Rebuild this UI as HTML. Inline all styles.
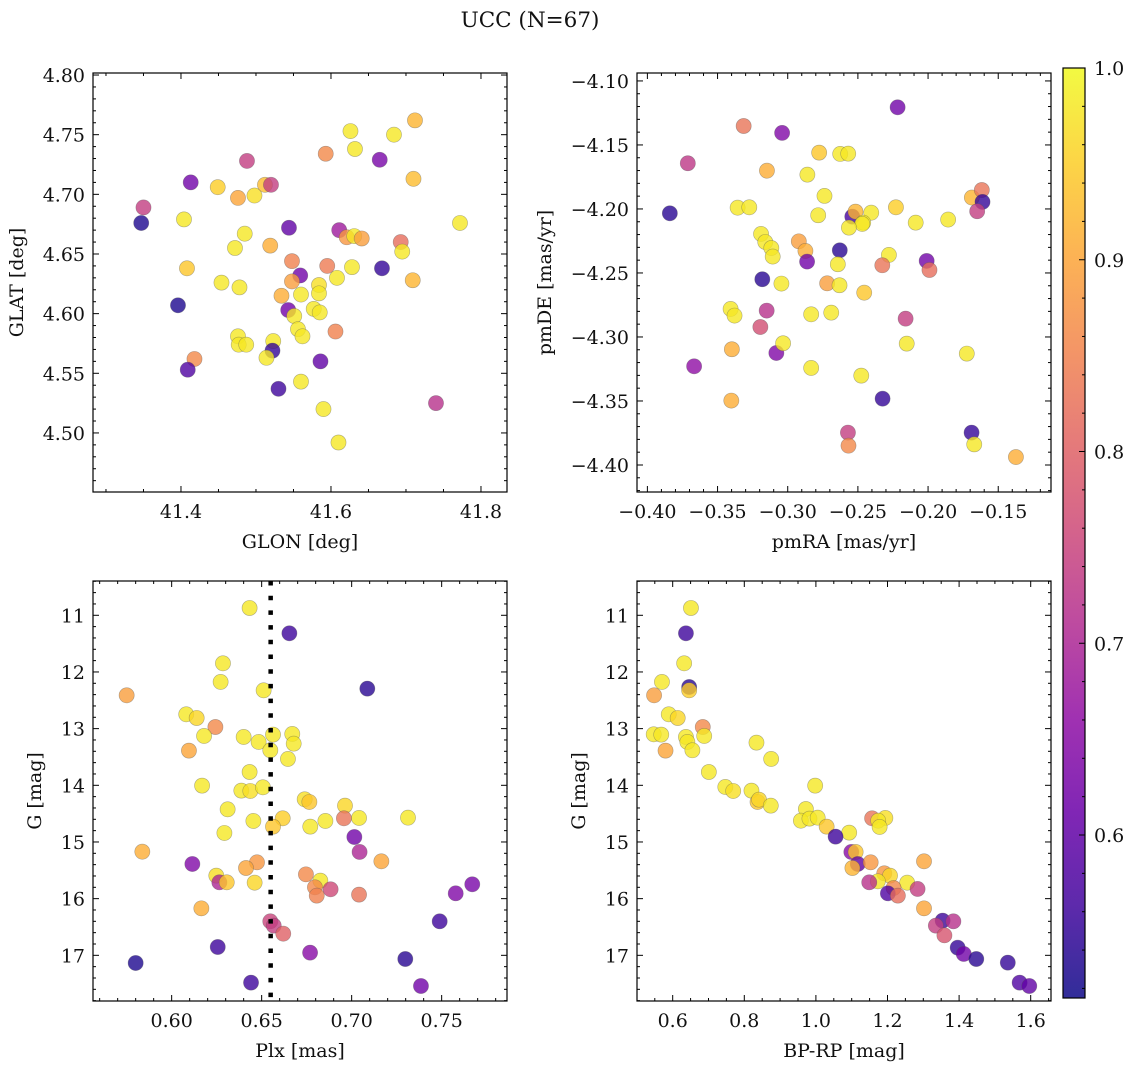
<!DOCTYPE html>
<html><head><meta charset="utf-8"><style>
html,body{margin:0;padding:0;background:#fff;}
svg{display:block;font-family:"DejaVu Serif","Liberation Serif",serif;}
</style></head><body>
<svg id="fig" xmlns="http://www.w3.org/2000/svg" width="1136" height="1067" viewBox="0 0 1136 1067">
<text x="530" y="27" font-size="21.5" text-anchor="middle" fill="#111">UCC (N=67)</text>
</svg>
<script>
// ---------- data ----------
const p1Glon=[41.347,41.350,41.413,41.488,41.449,41.476,41.498,41.512,41.520,41.404,41.485,41.472,41.519,41.544,41.408,41.454,41.478,41.396,41.418,41.409,41.548,41.559,41.548,41.534,41.560,41.584,41.584,41.543,41.551,41.577,41.585,41.556,41.562,41.476,41.477,41.487,41.523,41.522,41.514,41.586,41.560,41.530,41.590,41.610,41.595,41.608,41.628,41.606,41.611,41.621,41.631,41.641,41.593,41.626,41.632,41.665,41.684,41.712,41.710,41.668,41.693,41.695,41.709,41.772,41.740];
const p1Glat=[4.676,4.689,4.710,4.728,4.706,4.697,4.699,4.708,4.708,4.679,4.667,4.655,4.657,4.672,4.638,4.626,4.622,4.607,4.562,4.553,4.644,4.632,4.627,4.615,4.616,4.624,4.617,4.603,4.598,4.604,4.601,4.587,4.581,4.581,4.574,4.574,4.577,4.569,4.563,4.560,4.543,4.537,4.520,4.492,4.640,4.630,4.639,4.585,4.670,4.664,4.665,4.663,4.734,4.753,4.738,4.729,4.750,4.762,4.713,4.638,4.660,4.652,4.628,4.676,4.525];
const p1Prob=[0.53,0.74,0.62,0.74,0.95,0.90,0.97,0.93,0.74,0.98,0.98,0.98,0.91,0.60,0.94,0.98,0.98,0.53,0.86,0.58,0.85,0.62,0.89,0.91,0.98,0.97,0.98,0.62,0.98,0.98,0.98,0.98,0.98,0.98,0.98,0.98,0.98,0.55,0.98,0.60,0.98,0.56,0.98,0.98,0.84,0.98,0.98,0.85,0.68,0.88,0.98,0.89,0.86,0.98,0.98,0.63,0.98,0.92,0.93,0.55,0.82,0.98,0.92,0.98,0.72];

const p2PmRA=[-0.3840,-0.3712,-0.3667,-0.3314,-0.3040,-0.3148,-0.3357,-0.3274,-0.3190,-0.3160,-0.3117,-0.3107,-0.3181,-0.3045,-0.3407,-0.3379,-0.3150,-0.3195,-0.3398,-0.3081,-0.3033,-0.3402,-0.2860,-0.2776,-0.2626,-0.2569,-0.2738,-0.2783,-0.2921,-0.2874,-0.2862,-0.2629,-0.2643,-0.2719,-0.2631,-0.2833,-0.2690,-0.2833,-0.2540,-0.2517,-0.2405,-0.2462,-0.2469,-0.2564,-0.2455,-0.2476,-0.2229,-0.2279,-0.2326,-0.2324,-0.2571,-0.2567,-0.2217,-0.2088,-0.2160,-0.2152,-0.2010,-0.1990,-0.1857,-0.1724,-0.1688,-0.1617,-0.1612,-0.1650,-0.1690,-0.1671,-0.1374];
const p2PmDE=[-4.2034,-4.1643,-4.3229,-4.1352,-4.1406,-4.1701,-4.1990,-4.1987,-4.2195,-4.2258,-4.2305,-4.2372,-4.2549,-4.2583,-4.2781,-4.2833,-4.2794,-4.2922,-4.3096,-4.3125,-4.3049,-4.3497,-4.1732,-4.1560,-4.1570,-4.1568,-4.1898,-4.2049,-4.2253,-4.2328,-4.2411,-4.2323,-4.2432,-4.2581,-4.2596,-4.2823,-4.2810,-4.3242,-4.2060,-4.2021,-4.2029,-4.2107,-4.2117,-4.2146,-4.2654,-4.3302,-4.1987,-4.2359,-4.2440,-4.3482,-4.3747,-4.3849,-4.1206,-4.2107,-4.2857,-4.3052,-4.2406,-4.2477,-4.2083,-4.3130,-4.1911,-4.1852,-4.1945,-4.2018,-4.3747,-4.3839,-4.3938];
const p2Prob=[0.54,0.73,0.66,0.83,0.64,0.91,0.98,0.98,0.98,0.98,0.98,0.98,0.54,0.98,0.98,0.98,0.72,0.77,0.91,0.64,0.98,0.91,0.98,0.94,0.98,0.98,0.98,0.98,0.89,0.91,0.62,0.54,0.98,0.89,0.98,0.98,0.98,0.98,0.57,0.92,0.98,0.98,0.98,0.98,0.94,0.98,0.95,0.98,0.83,0.55,0.74,0.86,0.62,0.98,0.74,0.98,0.62,0.82,0.98,0.98,0.92,0.83,0.55,0.74,0.55,0.98,0.91];

const p3Plx=[0.6433,0.6654,0.6285,0.6272,0.6511,0.5750,0.7087,0.6081,0.6139,0.6243,0.6180,0.6400,0.6483,0.6563,0.6670,0.6678,0.6548,0.6096,0.6646,0.6433,0.6169,0.6387,0.6437,0.6507,0.6739,0.6765,0.6963,0.6311,0.6454,0.6617,0.6563,0.6770,0.6854,0.7041,0.6957,0.7313,0.6293,0.7015,0.7044,0.5837,0.6115,0.6474,0.6413,0.7165,0.6248,0.6265,0.6306,0.6461,0.6746,0.6826,0.6796,0.6883,0.6806,0.7041,0.7670,0.7578,0.6165,0.6548,0.6567,0.6620,0.7489,0.6256,0.6769,0.5800,0.7298,0.6441,0.7385];
const p3G=[10.871,11.318,11.847,12.176,12.324,12.412,12.294,12.747,12.812,12.971,13.129,13.147,13.235,13.106,13.094,13.265,13.382,13.388,13.535,13.765,14.006,14.094,14.100,14.035,14.247,14.294,14.359,14.424,14.629,14.582,14.729,14.729,14.629,14.576,14.582,14.571,14.841,14.912,15.176,15.171,15.388,15.359,15.459,15.341,15.594,15.712,15.712,15.718,15.571,15.682,15.800,15.835,15.947,15.929,15.747,15.906,16.171,16.400,16.476,16.618,16.400,16.853,16.953,17.135,17.065,17.482,17.541];
const p3Prob=[0.98,0.56,0.98,0.98,0.98,0.89,0.54,0.98,0.96,0.86,0.98,0.98,0.98,0.98,0.98,0.98,0.98,0.90,0.98,0.98,0.98,0.98,0.97,0.98,0.97,0.94,0.96,0.98,0.98,0.95,0.94,0.98,0.98,0.98,0.83,0.98,0.98,0.62,0.70,0.91,0.64,0.88,0.90,0.90,0.97,0.70,0.94,0.96,0.86,0.98,0.86,0.76,0.85,0.83,0.63,0.64,0.91,0.75,0.74,0.80,0.56,0.56,0.65,0.53,0.54,0.56,0.62];
const plxRef=[0.655];

const p4Color=[0.651,0.637,0.632,0.570,0.646,0.646,0.548,0.589,0.614,0.684,0.547,0.568,0.637,0.641,0.688,0.655,0.580,0.834,0.875,0.701,0.747,0.769,0.820,0.837,0.841,0.874,0.998,0.972,0.958,0.982,1.005,1.030,1.093,1.055,1.157,1.194,1.174,1.178,1.099,1.111,1.117,1.102,1.153,1.302,1.191,1.207,1.173,1.149,1.255,1.217,1.201,1.229,1.284,1.302,1.354,1.384,1.335,1.359,1.396,1.413,1.448,1.536,1.569,1.596];
const p4G=[10.871,11.318,11.847,12.176,12.265,12.324,12.412,12.747,12.812,12.971,13.100,13.106,13.147,13.235,13.129,13.382,13.388,13.247,13.535,13.765,14.029,14.100,14.094,14.294,14.253,14.359,14.006,14.418,14.624,14.588,14.571,14.729,14.835,14.906,14.582,14.576,14.624,14.735,15.176,15.176,15.388,15.459,15.359,15.341,15.553,15.594,15.694,15.712,15.718,15.812,15.906,15.947,15.829,16.171,16.388,16.400,16.476,16.647,16.865,16.976,17.065,17.129,17.482,17.541];
const p4Prob=[0.98,0.56,0.98,0.98,0.54,0.95,0.89,0.98,0.96,0.86,0.98,0.98,0.98,0.98,0.98,0.98,0.90,0.98,0.98,0.98,0.98,0.97,0.98,0.94,0.96,0.98,0.98,0.98,0.98,0.98,0.98,0.94,0.98,0.56,0.83,0.97,0.98,0.98,0.65,0.94,0.60,0.92,0.88,0.90,0.88,0.96,0.98,0.72,0.98,0.86,0.58,0.82,0.74,0.90,0.56,0.72,0.74,0.78,0.55,0.62,0.54,0.55,0.58,0.60];

const p1XTicks=[41.4,41.6,41.8], p1YTicks=[4.50,4.55,4.60,4.65,4.70,4.75,4.80];
const p2XTicks=[-0.40,-0.35,-0.30,-0.25,-0.20,-0.15], p2YTicks=[-4.40,-4.35,-4.30,-4.25,-4.20,-4.15,-4.10];
const p3XTicks=[0.60,0.65,0.70,0.75], gTicks=[11,12,13,14,15,16,17];
const p4XTicks=[0.6,0.8,1.0,1.2,1.4,1.6];
const cbTicks=[0.6,0.7,0.8,0.9,1.0];

// ---------- helpers ----------
const NS="http://www.w3.org/2000/svg";
const svg=document.getElementById('fig');
const TFS=19, LFS=19;
function mk(tag,attrs,parent){const e=document.createElementNS(NS,tag);for(const k in attrs)e.setAttribute(k,attrs[k]);(parent||svg).appendChild(e);return e;}
const plasma=[[13,8,135],[65,4,157],[106,0,168],[143,13,164],[177,42,144],[204,71,120],[225,100,98],[242,132,75],[252,166,54],[252,206,37],[240,249,33]];
const VMIN=0.515,VMAX=1.0;
function cmap(t){t=Math.max(0,Math.min(1,t));const f=t*10,i=Math.min(9,Math.floor(f)),u=f-i;const a=plasma[i],b=plasma[i+1];return 'rgb('+[0,1,2].map(k=>Math.round(a[k]+(b[k]-a[k])*u)).join(',')+')';}
function fmt(v,d){const s=Math.abs(v).toFixed(d);return (v<-1e-9?'\u2212':'')+s;}

function panel(o){
  const g=mk('g',{});
  
  
  const sx=v=>o.x0+(v-o.xmin)/(o.xmax-o.xmin)*(o.x1-o.x0);
  const sy=v=>o.inv? o.y0+(v-o.ymin)/(o.ymax-o.ymin)*(o.y1-o.y0) : o.y1-(v-o.ymin)/(o.ymax-o.ymin)*(o.y1-o.y0);
  const pg=mk('g',{},g);
  
  
  for(let i=0;i<o.xs.length;i++){
    const c=mk('circle',{cx:sx(o.xs[i]).toFixed(2),cy:sy(o.ys[i]).toFixed(2),r:7.6,fill:cmap((o.cs[i]-VMIN)/(VMAX-VMIN)),'fill-opacity':0.8,stroke:'#555','stroke-opacity':0.45,'stroke-width':0.6},pg);
    
    
  }
  if(o.vline){for(const v of o.vline){const l=mk('line',{x1:sx(v),x2:sx(v),y1:o.y0,y2:o.y1,stroke:'#000','stroke-width':4.5,'stroke-dasharray':'4.5 10.2'},g);
    
    }}
  const fr=mk('rect',{x:o.x0,y:o.y0,width:o.x1-o.x0,height:o.y1-o.y0,fill:'none',stroke:'#000','stroke-width':1.2},g);
  
  
  const tg=mk('g',{stroke:'#000','stroke-width':1},g);
  const lo=Math.min(o.xmin,o.xmax),hi=Math.max(o.xmin,o.xmax);
  for(let k=Math.ceil(lo/o.xminor-1e-6);k*o.xminor<=hi+1e-9;k++){const v=k*o.xminor,x=sx(v);const maj=o.xt.some(t=>Math.abs(t-v)<o.xminor/3);const L=maj?6:3;
    mk('line',{x1:x,x2:x,y1:o.y1,y2:o.y1-L},tg);mk('line',{x1:x,x2:x,y1:o.y0,y2:o.y0+L},tg);}
  const ylo=Math.min(o.ymin,o.ymax),yhi=Math.max(o.ymin,o.ymax);
  for(let k=Math.ceil(ylo/o.yminor-1e-6);k*o.yminor<=yhi+1e-9;k++){const v=k*o.yminor,y=sy(v);const maj=o.yt.some(t=>Math.abs(t-v)<o.yminor/3);const L=maj?6:3;
    mk('line',{x1:o.x0,x2:o.x0+L,y1:y,y2:y},tg);mk('line',{x1:o.x1,x2:o.x1-L,y1:y,y2:y},tg);}
  for(const t of o.xt){const e=mk('text',{x:sx(t),y:o.y1+26,'font-size':TFS,'text-anchor':'middle',fill:'#111'},g);e.textContent=fmt(t,o.xd);
    
    }
  for(const t of o.yt){const e=mk('text',{x:o.x0-8,y:sy(t)+7,'font-size':TFS,'text-anchor':'end',fill:'#111'},g);e.textContent=fmt(t,o.yd);
    
    }
  const xl=mk('text',{x:(o.x0+o.x1)/2,y:o.y1+56,'font-size':LFS,'text-anchor':'middle',fill:'#111'},g);xl.textContent=o.xlabel;
  
  
  const cy=(o.y0+o.y1)/2;
  const yl=mk('text',{x:o.ylx,y:cy,'font-size':LFS,'text-anchor':'middle',fill:'#111',transform:'rotate(-90 '+o.ylx+' '+cy+')'},g);yl.textContent=o.ylabel;
  
  
}

panel({name:'glon-glat-panel',x0:93,x1:507,y0:73,y1:492,xmin:41.2827,xmax:41.8347,ymin:4.4505,ymax:4.8017,xs:p1Glon,ys:p1Glat,cs:p1Prob,xt:p1XTicks,yt:p1YTicks,xminor:0.05,yminor:0.01,xd:1,yd:2,xlabel:'GLON [deg]',ylabel:'GLAT [deg]',ylx:23});
panel({name:'proper-motion-panel',x0:637,x1:1051,y0:73,y1:492,xmin:-0.4074,xmax:-0.1124,ymin:-4.4211,ymax:-4.0938,xs:p2PmRA,ys:p2PmDE,cs:p2Prob,xt:p2XTicks,yt:p2YTicks,xminor:0.01,yminor:0.01,xd:2,yd:2,xlabel:'pmRA [mas/yr]',ylabel:'pmDE [mas/yr]',ylx:551});
panel({name:'plx-g-panel',x0:93,x1:507,y0:581,y1:1001,xmin:0.5563,xmax:0.7863,ymin:10.395,ymax:17.806,inv:true,xs:p3Plx,ys:p3G,cs:p3Prob,xt:p3XTicks,yt:gTicks,xminor:0.01,yminor:0.2,xd:2,yd:0,xlabel:'Plx [mas]',ylabel:'G [mag]',ylx:41});
panel({name:'cmd-panel',x0:637,x1:1051,y0:581,y1:1001,xmin:0.5003,xmax:1.6567,ymin:10.395,ymax:17.806,inv:true,xs:p4Color,ys:p4G,cs:p4Prob,xt:p4XTicks,yt:gTicks,xminor:0.05,yminor:0.2,xd:1,yd:0,xlabel:'BP-RP [mag]',ylabel:'G [mag]',ylx:585});
// dotted reference line drawn in plx panel (on top of points)
(function(){
  const x0=93,x1=507,xmin=0.5563,xmax=0.7863;
  for(const v of plxRef){const x=x0+(v-xmin)/(xmax-xmin)*(x1-x0);
    const l=mk('line',{x1:x,x2:x,y1:581,y2:1001,stroke:'#000','stroke-width':4.5,'stroke-dasharray':'4.5 10.2'});
    
    }
})();

// ---------- colorbar ----------
(function(){
  const x0=1063,x1=1085,y0=68,y1=998;
  const defs=mk('defs',{});
  const lg=mk('linearGradient',{id:'plasmaGrad',x1:0,y1:1,x2:0,y2:0},defs);
  plasma.forEach((c,i)=>mk('stop',{offset:(i*10)+'%','stop-color':'rgb('+c.join(',')+')','stop-opacity':0.85},lg));
  const g=mk('g',{});
  
  
  mk('rect',{x:x0,y:y0,width:x1-x0,height:y1-y0,fill:'url(#plasmaGrad)',stroke:'#000','stroke-width':1.2},g);
  const sy=v=>y1-(v-VMIN)/(VMAX-VMIN)*(y1-y0);
  for(let k=26;k<=50;k++){const v=k*0.02;if(v<VMIN-1e-9)continue;const y=sy(v);const maj=cbTicks.some(t=>Math.abs(t-v)<0.005);
    mk('line',{x1:x1,x2:x1-(maj?6:3),y1:y,y2:y,stroke:'#000','stroke-width':1},g);}
  for(const t of cbTicks){const e=mk('text',{x:x1+9,y:sy(t)+7,'font-size':TFS,fill:'#111'},g);e.textContent=t.toFixed(1);
    
    }
})();
</script>
</body></html>
